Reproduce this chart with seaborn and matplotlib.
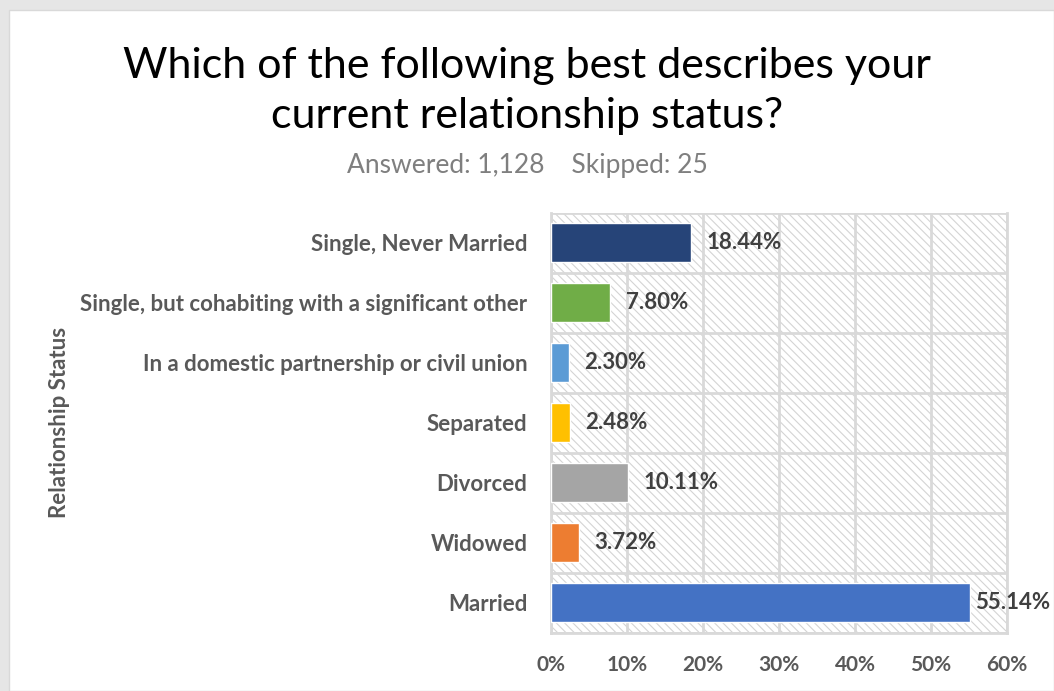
import matplotlib
matplotlib.use("Agg")
import matplotlib.pyplot as plt
import matplotlib.patches as mpatches
import seaborn as sns
import pandas as pd
from matplotlib.ticker import FuncFormatter, MultipleLocator

categories = ["Single, Never Married", "Single, but cohabiting with a significant other",
              "In a domestic partnership or civil union", "Separated", "Divorced", "Widowed", "Married"]
values = [18.44, 7.80, 2.30, 2.48, 10.11, 3.72, 55.14]
colors = ["#264478", "#70AD47", "#5B9BD5", "#FFC000", "#A5A5A5", "#ED7D31", "#4472C4"]
title = "Which of the following best describes your\ncurrent relationship status?"
subtitle = "Answered: 1,128    Skipped: 25"

sns.set_theme(style="white")
plt.rcParams['font.family'] = ['Lato', 'DejaVu Sans']
plt.rcParams['hatch.color'] = '#D4D4D4'
plt.rcParams['hatch.linewidth'] = 0.8

df = pd.DataFrame({"cat": categories, "val": values})

fig = plt.figure(figsize=(10.54, 6.91), dpi=100)
# light frame / shadow
fig.patches.append(mpatches.Rectangle((0, 0), 1, 1, transform=fig.transFigure,
                                      facecolor='#E6E6E6', edgecolor='none', zorder=-10))
fig.patches.append(mpatches.Rectangle((0.009, 0), 0.991, 0.985, transform=fig.transFigure,
                                      facecolor='white', edgecolor='#D9D9D9', lw=1, zorder=-9))

ax = fig.add_axes([0.5228, 0.084, 0.4326, 0.608])
ax.set_facecolor('white')
ax.patch.set_hatch('\\\\\\\\')
ax.patch.set_edgecolor('#D4D4D4')

sns.barplot(data=df, y="cat", x="val", hue="cat", palette=colors, legend=False,
            ax=ax, width=0.65, saturation=1, order=categories, hue_order=categories, zorder=3)

ax.set_xlim(0, 60)
ax.set_ylim(6.5, -0.5)
ax.xaxis.set_major_locator(MultipleLocator(10))
ax.xaxis.set_major_formatter(FuncFormatter(lambda v, p: f"{int(v)}%"))
ax.set_yticks([i + 0.5 for i in range(-1, 7)], minor=True)
ax.grid(True, axis='x', which='major', color='#D9D9D9', lw=2, zorder=1)
ax.grid(True, axis='y', which='minor', color='#D9D9D9', lw=2, zorder=1)
ax.tick_params(axis='y', which='minor', length=0)
ax.tick_params(axis='both', which='major', length=0)
ax.tick_params(axis='x', pad=16)
ax.tick_params(axis='y', pad=17)
for s in ['top']:
    ax.spines[s].set_visible(False)
for s in ['right', 'bottom', 'left']:
    ax.spines[s].set_color('#D9D9D9')
    ax.spines[s].set_linewidth(2)

for lab in ax.get_xticklabels():
    lab.set_fontsize(15); lab.set_fontweight('bold'); lab.set_color('#595959')
for lab in ax.get_yticklabels():
    lab.set_fontsize(16); lab.set_fontweight('bold'); lab.set_color('#595959')

ax.set_xlabel("")
ax.set_ylabel("Relationship Status", fontsize=16, fontweight='bold', color='#595959')
ax.yaxis.set_label_coords(-1.055, 0.5)

for i, v in enumerate(values):
    off = 2.0 if v < 50 else 0.6
    ax.text(v + off, i, f"{v:.2f}%", va='center', ha='left', fontsize=16,
            fontweight='bold', color='#404040', zorder=4, clip_on=False)

fig.text(0.5, 0.868, title, ha='center', va='center', fontsize=31, color='black', linespacing=1.4)
fig.text(0.5, 0.761, subtitle, ha='center', va='center', fontsize=19, color='#7F7F7F')

fig.savefig("out.png", dpi=100)
